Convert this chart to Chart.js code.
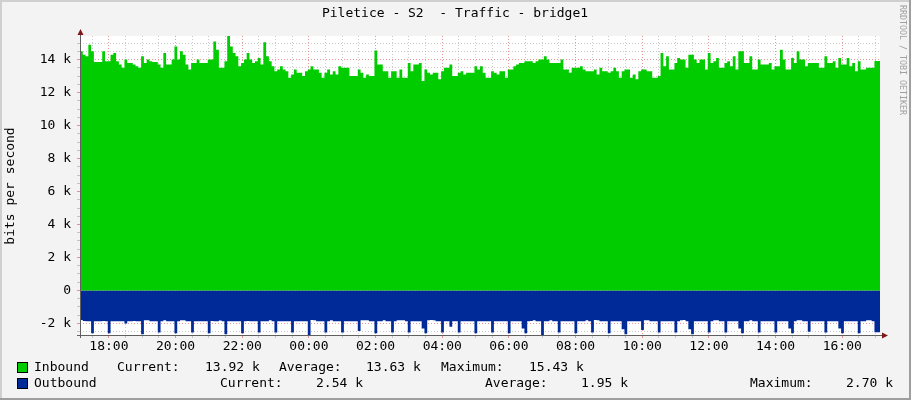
<!DOCTYPE html>
<html>
<head>
<meta charset="utf-8">
<script src="https://cdn.jsdelivr.net/npm/chart.js@4.4.1/dist/chart.umd.min.js"></script>
<style>
html, body { margin: 0; padding: 0; background: #f3f3f3; }
#wrap { width: 911px; height: 400px; }
</style>
</head>
<body>
<div id="wrap"><canvas id="myChart" width="911" height="400"></canvas></div>
<script>
const title = "Piletice - S2  - Traffic - bridge1";
const yTitle = "bits per second";
const watermark = "RRDTOOL / TOBI OETIKER";

// time axis in minutes from midnight of the first day
const startMin = 17 * 60 + 8;     // 17:08
const spanMin = 24 * 60;
const sampleStep = 5;             // minutes per sample

const hourLabels = ['18:00', '20:00', '22:00', '00:00', '02:00', '04:00',
                    '06:00', '08:00', '10:00', '12:00', '14:00', '16:00'];
const valueLabels = ['-2 k', '0', '2 k', '4 k', '6 k', '8 k', '10 k', '12 k', '14 k'];

// inbound, k bits/s, one value per 5 min (12 per line = 1 hour)
const inbound = [
  13.8, 14.5, 14.3, 14.2, 14.9, 14.5, 13.86, 13.86, 13.86, 14.5, 13.9, 13.9,
  14.3, 14.4, 13.9, 13.7, 13.5, 14.0, 13.8, 13.8, 13.7, 13.6, 13.5, 14.2,
  13.8, 14.0, 13.9, 13.86, 13.86, 13.7, 13.5, 14.4, 13.7, 13.7, 14.0, 14.8,
  14.0, 14.5, 14.3, 13.7, 13.4, 13.8, 13.8, 14.0, 13.8, 13.8, 13.8, 14.0,
  14.0, 15.1, 14.6, 13.5, 13.5, 13.9, 15.43, 14.8, 14.4, 14.2, 13.6, 13.8,
  14.0, 14.4, 14.0, 13.8, 13.9, 14.1, 13.7, 15.05, 14.2, 13.9, 13.6, 13.3,
  13.4, 13.6, 13.4, 13.3, 12.9, 13.1, 13.4, 13.2, 13.2, 13.0, 13.3, 13.4,
  13.6, 13.4, 13.4, 13.2, 12.9, 13.2, 13.4, 13.1, 13.3, 13.1, 13.6, 13.5,
  13.5, 13.5, 13.0, 13.0, 13.0, 13.4, 13.2, 12.9, 13.1, 13.0, 13.0, 14.55,
  13.7, 13.7, 13.3, 13.3, 12.9, 13.3, 13.3, 12.9, 13.4, 12.9, 12.9, 13.8,
  13.3, 13.7, 13.7, 13.8, 12.7, 13.4, 13.2, 13.1, 13.2, 13.2, 12.8, 13.3,
  13.5, 13.5, 13.7, 13.0, 13.0, 13.2, 13.3, 13.1, 13.2, 13.2, 13.2, 13.6,
  13.4, 13.6, 13.2, 12.9, 12.9, 13.3, 13.2, 13.1, 13.3, 13.3, 12.9, 13.4,
  13.4, 13.6, 13.7, 13.8, 13.8, 13.9, 13.9, 13.9, 13.8, 13.9, 14.0, 14.0,
  14.2, 14.0, 13.8, 13.8, 13.8, 13.8, 14.0, 13.4, 13.4, 13.2, 13.5, 13.5,
  13.5, 13.6, 13.4, 13.3, 13.3, 13.3, 13.4, 13.1, 13.5, 13.3, 13.3, 13.2,
  13.3, 13.5, 13.3, 12.9, 13.3, 13.4, 13.4, 12.9, 13.1, 12.8, 13.3, 13.4,
  13.4, 13.3, 13.3, 12.9, 12.9, 13.0, 14.4, 13.6, 14.2, 13.4, 13.4, 13.8,
  14.1, 14.0, 14.0, 13.5, 14.3, 14.3, 14.0, 13.8, 14.0, 14.0, 13.4, 14.4,
  13.8, 13.9, 14.1, 13.5, 13.5, 13.8, 13.9, 13.6, 14.2, 13.4, 14.5, 14.5,
  13.8, 13.8, 14.2, 13.4, 13.4, 14.0, 13.7, 13.7, 13.7, 13.8, 13.4, 13.6,
  13.6, 14.6, 14.0, 13.4, 13.4, 14.1, 13.8, 14.5, 14.0, 14.0, 13.6, 13.8,
  13.8, 13.8, 13.8, 13.5, 13.5, 14.2, 13.8, 13.8, 13.9, 13.5, 14.1, 13.7,
  13.7, 14.1, 13.6, 13.8, 13.3, 13.9, 13.4, 13.4, 13.5, 13.5, 13.5, 13.92
];

// outbound, k bits/s, one value per 5 min (plotted below zero)
const outbound = [
  1.78, 1.79, 1.85, 1.86, 1.86, 2.60, 1.86, 1.87, 1.86, 1.85, 1.86, 2.60,
  1.86, 1.86, 1.87, 1.86, 1.86, 2.00, 1.86, 1.86, 1.85, 1.86, 1.86, 2.65,
  1.80, 1.81, 1.86, 1.86, 1.86, 2.55, 1.86, 1.80, 1.86, 1.86, 1.86, 2.60,
  1.86, 1.80, 1.81, 1.86, 1.86, 2.55, 1.86, 1.86, 1.87, 1.86, 1.86, 2.60,
  1.85, 1.86, 1.86, 1.82, 1.86, 2.65, 1.86, 1.86, 1.87, 1.86, 1.86, 2.60,
  1.86, 1.85, 1.86, 1.86, 1.86, 2.55, 1.86, 1.86, 1.86, 1.80, 1.86, 2.55,
  1.86, 1.86, 1.86, 1.86, 1.86, 2.55, 1.86, 1.86, 1.86, 1.86, 1.86, 2.70,
  1.79, 1.80, 1.86, 1.86, 1.86, 2.55, 1.86, 1.80, 1.86, 1.86, 1.86, 2.55,
  1.86, 1.86, 1.86, 1.86, 1.86, 2.45, 1.80, 1.80, 1.81, 1.86, 1.86, 2.60,
  1.86, 1.86, 1.80, 1.86, 1.86, 2.55, 1.86, 1.81, 1.80, 1.81, 1.86, 2.55,
  1.86, 1.86, 1.86, 1.86, 2.30, 2.60, 1.80, 1.79, 1.80, 1.86, 1.86, 2.55,
  1.86, 1.86, 2.20, 1.86, 1.86, 2.55, 1.86, 1.86, 1.86, 1.86, 1.86, 2.60,
  1.86, 1.86, 1.86, 1.86, 1.86, 2.55, 1.86, 1.86, 1.86, 1.86, 1.86, 2.60,
  1.86, 1.86, 1.86, 1.86, 2.30, 2.60, 1.86, 1.85, 1.80, 1.86, 1.86, 2.70,
  1.86, 1.86, 1.80, 1.86, 1.86, 2.55, 1.86, 1.86, 1.86, 1.86, 1.86, 2.60,
  1.86, 1.86, 1.86, 1.80, 1.86, 2.55, 1.79, 1.80, 1.86, 1.86, 1.86, 2.60,
  1.86, 1.86, 1.86, 1.86, 2.35, 2.65, 1.86, 1.86, 1.86, 1.86, 1.86, 2.40,
  1.80, 1.81, 1.86, 1.86, 1.86, 2.55, 1.86, 1.86, 1.86, 1.86, 1.86, 2.55,
  1.86, 1.80, 1.79, 1.86, 2.35, 2.65, 1.86, 1.86, 1.86, 1.86, 1.86, 2.55,
  1.86, 1.81, 1.80, 1.86, 1.86, 2.55, 1.86, 1.86, 1.86, 1.86, 2.30, 2.60,
  1.86, 1.86, 1.80, 1.86, 1.86, 2.55, 1.86, 1.86, 1.86, 1.86, 1.86, 2.55,
  1.86, 1.86, 1.86, 1.86, 2.30, 2.60, 1.86, 1.80, 1.81, 1.86, 1.86, 2.50,
  1.86, 1.86, 1.86, 1.86, 1.86, 2.55, 1.86, 1.86, 1.86, 1.86, 2.30, 2.60,
  1.86, 1.86, 1.86, 1.86, 1.86, 2.60, 1.86, 1.86, 1.80, 1.80, 1.86, 2.54
];

const yMin = -2.70;
const yMax = 15.43;

const seriesNames = ['Inbound', 'Outbound'];
const seriesColors = ['#00cc00', '#002a97'];
const statNames = ['Current:', 'Average:', 'Maximum:'];
const inboundStats = ['13.92 k', '13.63 k', '15.43 k'];
const outboundStats = ['2.54 k', '1.95 k', '2.70 k'];

const FONT = '"DejaVu Sans Mono", monospace';

// build the point lists (last sample held to the right edge)
const inPts = inbound.map((v, i) => ({x: startMin + i * sampleStep, y: v}));
inPts.push({x: startMin + spanMin, y: inbound[inbound.length - 1]});
const outPts = outbound.map((v, i) => ({x: startMin + i * sampleStep, y: -v}));
outPts.push({x: startMin + spanMin, y: -outbound[outbound.length - 1]});

const minorGrid = 'rgba(140,140,140,0.45)';
const majorGrid = 'rgba(222,80,80,0.6)';

const rrdDecor = {
  id: 'rrdDecor',
  beforeDraw(chart) {
    const ctx = chart.ctx, a = chart.chartArea;
    ctx.save();
    ctx.fillStyle = '#f3f3f3';
    ctx.fillRect(0, 0, 911, 400);
    ctx.fillStyle = '#cfcfcf';
    ctx.fillRect(0, 0, 911, 2);
    ctx.fillRect(0, 0, 2, 400);
    ctx.fillStyle = '#9e9e9e';
    ctx.fillRect(0, 398, 911, 2);
    ctx.fillRect(909, 0, 2, 400);
    ctx.fillStyle = '#ffffff';
    ctx.fillRect(a.left, a.top, a.right - a.left, a.bottom - a.top);
    ctx.restore();
  },
  afterDraw(chart) {
    const ctx = chart.ctx, a = chart.chartArea;
    ctx.save();
    // axes
    ctx.strokeStyle = '#606060';
    ctx.lineWidth = 1;
    ctx.beginPath();
    ctx.moveTo(a.left + 0.5, a.bottom + 3);
    ctx.lineTo(a.left + 0.5, a.top - 3);
    ctx.moveTo(a.left - 3, a.bottom + 0.5);
    ctx.lineTo(a.right + 3, a.bottom + 0.5);
    ctx.stroke();
    ctx.fillStyle = '#801818';
    ctx.beginPath();
    ctx.moveTo(a.left + 0.5, a.top - 7);
    ctx.lineTo(a.left - 2.5, a.top - 1);
    ctx.lineTo(a.left + 3.5, a.top - 1);
    ctx.closePath();
    ctx.fill();
    ctx.beginPath();
    ctx.moveTo(a.right + 8, a.bottom + 0.5);
    ctx.lineTo(a.right + 2, a.bottom - 2.5);
    ctx.lineTo(a.right + 2, a.bottom + 3.5);
    ctx.closePath();
    ctx.fill();

    // title
    ctx.fillStyle = '#000';
    ctx.font = '13px ' + FONT;
    ctx.textBaseline = 'middle';
    ctx.textAlign = 'center';
    ctx.fillText(title, 455, 14);

    // vertical axis title
    ctx.save();
    ctx.translate(11, 186);
    ctx.rotate(-Math.PI / 2);
    ctx.fillText(yTitle, 0, 0);
    ctx.restore();

    // watermark
    ctx.save();
    ctx.fillStyle = '#a0a0a0';
    ctx.font = '8.3px ' + FONT;
    ctx.textAlign = 'left';
    ctx.translate(902, 5);
    ctx.rotate(Math.PI / 2);
    ctx.fillText(watermark, 0, 0);
    ctx.restore();

    // legend
    ctx.textAlign = 'left';
    const rows = [
      {y: 368, stats: inboundStats, lx: [117, 279, 441], vx: [205, 366, 529]},
      {y: 384, stats: outboundStats, lx: [220, 485, 750], vx: [316, 581, 846]}
    ];
    rows.forEach((r, i) => {
      ctx.fillStyle = seriesColors[i];
      ctx.fillRect(18, r.y - 5, 9, 9);
      ctx.strokeStyle = '#000';
      ctx.strokeRect(17.5, r.y - 5.5, 10, 10);
      ctx.fillStyle = '#000';
      ctx.fillText(seriesNames[i], 34, r.y);
      statNames.forEach((s, j) => {
        ctx.fillText(s, r.lx[j], r.y);
        ctx.fillText(r.stats[j], r.vx[j], r.y);
      });
    });
    ctx.restore();
  }
};

const myChart = new Chart('myChart', {
  type: 'line',
  data: {
    datasets: [{
      label: seriesNames[0],
      data: inPts,
      stepped: 'after',
      fill: 'origin',
      backgroundColor: seriesColors[0],
      borderWidth: 0,
      pointRadius: 0
    }, {
      label: seriesNames[1],
      data: outPts,
      stepped: 'after',
      fill: 'origin',
      backgroundColor: seriesColors[1],
      borderWidth: 0,
      pointRadius: 0
    }]
  },
  options: {
    responsive: false,
    animation: false,
    layout: {padding: {top: 36, right: 31, left: 0, bottom: 0}},
    plugins: {legend: {display: false}, tooltip: {enabled: false}, title: {display: false}},
    scales: {
      x: {
        type: 'linear',
        min: startMin,
        max: startMin + spanMin,
        z: 1,
        afterFit: s => { s.height = 65; },
        afterBuildTicks: s => {
          const t = [];
          for (let m = Math.ceil(startMin / 30) * 30; m < startMin + spanMin; m += 30) t.push({value: m});
          s.ticks = t;
        },
        ticks: {
          autoSkip: false,
          maxRotation: 0,
          padding: 1,
          color: '#000',
          font: {family: FONT, size: 13},
          callback: v => v % 120 === 0 ? hourLabels[(v - 1080) / 120] : ''
        },
        grid: {
          tickLength: 3,
          color: c => (c.tick && c.tick.value % 120 === 0) ? majorGrid : minorGrid
        },
        border: {display: false, dash: [1, 2]}
      },
      y: {
        min: yMin,
        max: yMax,
        z: 1,
        afterFit: s => { s.width = 80; },
        afterBuildTicks: s => {
          const t = [];
          for (let k = -5; k <= 30; k++) t.push({value: k / 2});
          s.ticks = t;
        },
        ticks: {
          autoSkip: false,
          padding: 6,
          color: '#000',
          font: {family: FONT, size: 13},
          callback: v => (Math.round(v * 2) % 4 === 0) ? valueLabels[(v + 2) / 2] : ''
        },
        grid: {
          tickLength: 3,
          color: c => (c.tick && Math.round(c.tick.value * 2) % 4 === 0) ? majorGrid : minorGrid
        },
        border: {display: false, dash: [1, 2]}
      }
    }
  },
  plugins: [rrdDecor]
});
</script>
</body>
</html>
